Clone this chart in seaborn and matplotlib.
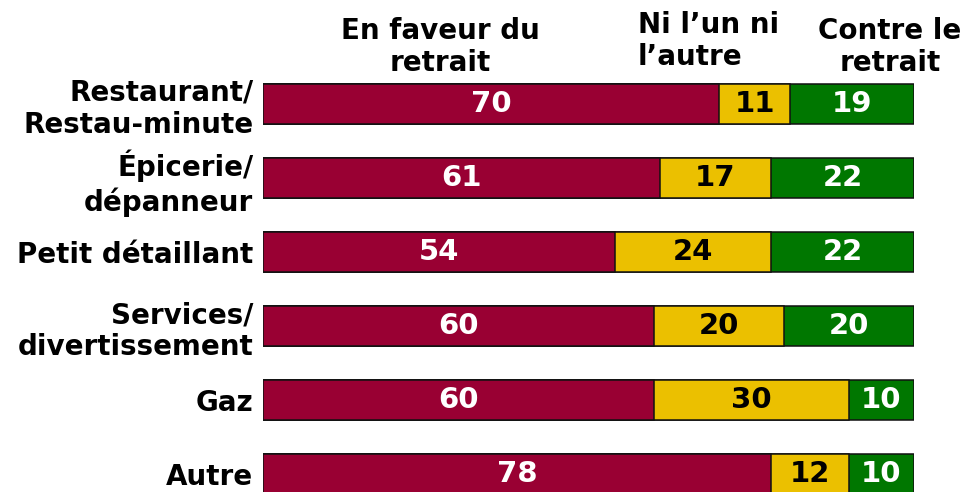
import matplotlib
matplotlib.use("Agg")
import matplotlib.pyplot as plt
import seaborn as sns
import pandas as pd

categories = [
    "Restaurant/\nRestau-minute",
    "Épicerie/\ndépanneur",
    "Petit détaillant",
    "Services/\ndivertissement",
    "Gaz",
    "Autre",
]
en_faveur = [70, 61, 54, 60, 60, 78]
ni_lun_ni_lautre = [11, 17, 24, 20, 30, 12]
contre = [19, 22, 22, 20, 10, 10]
headers = ["En faveur du\nretrait", "Ni l’un ni\nl’autre", "Contre le\nretrait"]

colors = ["#990033", "#EBC000", "#007700"]
text_colors = ["white", "black", "white"]

sns.set_theme(style="white")
plt.rcParams["font.family"] = ["DejaVu Sans"]
plt.rcParams["font.weight"] = "bold"
plt.rcParams["text.color"] = "black"
plt.rcParams["ytick.color"] = "black"
plt.rcParams["ytick.labelcolor"] = "black"

df = pd.DataFrame({
    "cat": categories,
    "fav": en_faveur,
    "ni": ni_lun_ni_lautre,
    "contre": contre,
})
df["c1"] = df["fav"]
df["c2"] = df["fav"] + df["ni"]
df["c3"] = df["c2"] + df["contre"]

fig = plt.figure(figsize=(9.66, 4.92), dpi=100)
ax = fig.add_axes([263 / 966, 0, 651 / 966, 412 / 492])

# stacked bars: draw cumulative totals from widest to narrowest
for col, color in zip(["c3", "c2", "c1"], colors[::-1]):
    sns.barplot(
        data=df, x=col, y="cat", orient="h", color=color, saturation=1,
        width=0.53, edgecolor="#111111", linewidth=1.1, errorbar=None, ax=ax,
    )

for i, row in df.iterrows():
    starts = [0, row["c1"], row["c2"]]
    vals = [row["fav"], row["ni"], row["contre"]]
    for s, v, tc in zip(starts, vals, text_colors):
        ax.text(s + v / 2, i, str(v), ha="center", va="center",
                color=tc, fontsize=21, fontweight="bold")

ax.set_xlim(0, 100)
ax.set_ylim(5.243, -0.324)
ax.set_xlabel("")
ax.set_ylabel("")
ax.set_xticks([])
ax.tick_params(axis="y", length=0, pad=7, labelsize=20, labelcolor="black")
for lab in ax.get_yticklabels():
    lab.set_fontweight("bold")
for sp in ax.spines.values():
    sp.set_visible(False)

fig.text(440 / 966, 1 - 47 / 492, headers[0], ha="center", va="center",
         multialignment="center", fontsize=20, fontweight="bold", color="black")
fig.text(638 / 966, 1 - 41 / 492, headers[1], ha="left", va="center",
         multialignment="left", fontsize=20, fontweight="bold", color="black")
fig.text(890 / 966, 1 - 47 / 492, headers[2], ha="center", va="center",
         multialignment="center", fontsize=20, fontweight="bold", color="black")

fig.savefig("out.png", dpi=100)
